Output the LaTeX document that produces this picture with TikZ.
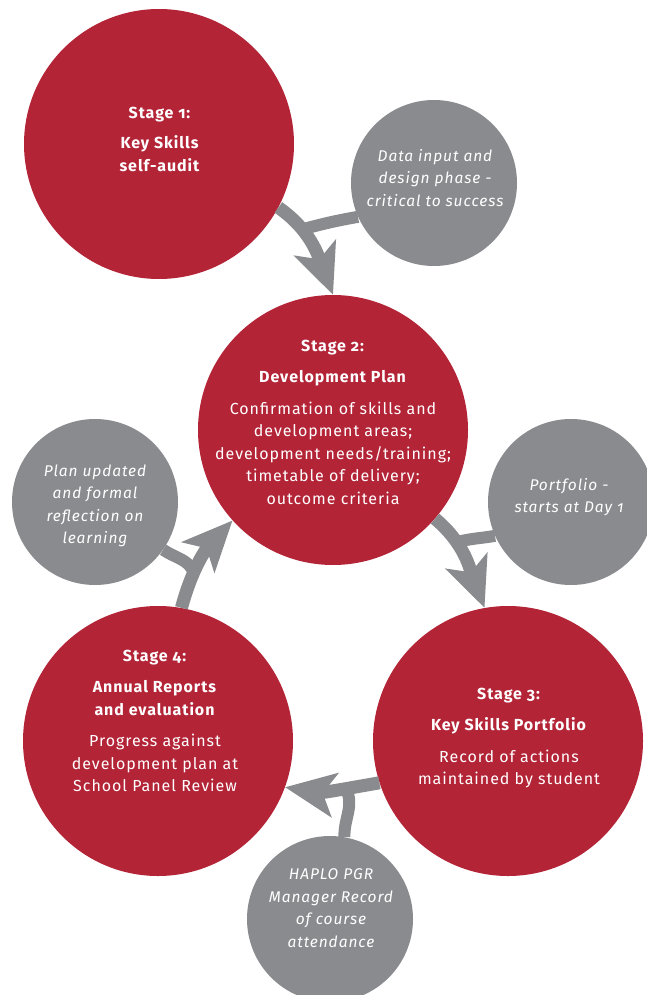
\documentclass[tikz,border=0pt]{standalone}
\usepackage{fontspec}
\setmainfont{Fira Sans}[Numbers=OldStyle,LetterSpace=6]
\usetikzlibrary{arrows.meta}
\definecolor{stagered}{RGB}{179,36,55}
\definecolor{notegrey}{RGB}{138,139,143}

\begin{document}
\begin{tikzpicture}[x=1pt,y=1pt,
  stage/.style={circle, fill=stagered, minimum size=270pt, inner sep=0pt},
  note/.style={circle, fill=notegrey, minimum size=166pt, inner sep=0pt},
  stagetext/.style={text=white, align=center,
    font=\fontsize{16}{22.5}\selectfont},
  notetext/.style={text=white, align=center,
    font=\itshape\fontsize{15.5}{22.5}\selectfont},
  flow/.style={draw=notegrey, line width=13pt,
    -{Stealth[length=50pt,width=44pt,inset=12pt]}},
  branch/.style={draw=notegrey, line width=12pt}]
  \clip (0,0) rectangle (647,-995);
  % circles
  \node[stage] (s1) at (159,-144) {};
  \node[note] (d) at (434,-183) {};
  \node[stage] (s2) at (333,-430) {};
  \node[note] (pl) at (95,-502) {};
  \node[note] (pf) at (571,-502) {};
  \node[stage] (s4) at (158,-741) {};
  \node[stage] (s3) at (508,-741) {};
  \node[note] (h) at (330,-919) {};
  % texts
  \node[stagetext] (t1) at (160,-139) {\textbf{Stage 1:}\\[8pt]
    \textbf{Key Skills}\\\textbf{self-audit}};
  \node[notetext] (td) at (435,-178) {Data input and\\design phase -\\critical to success};
  \node[stagetext] (t2) at (333,-422) {\textbf{Stage 2:}\\[9pt]
    \textbf{Development Plan}\\[9pt]
    Confirmation of skills and\\development areas;\\development needs/training;\\
    timetable of delivery;\\outcome criteria};
  \node[notetext] (tpl) at (95,-506) {Plan updated\\and formal\\reflection on\\learning};
  \node[notetext] (tpf) at (569,-497) {Portfolio -\\starts at Day 1};
  \node[stagetext] (t4) at (155,-721) {\textbf{Stage 4:}\\[9pt]
    \textbf{Annual Reports}\\\textbf{and evaluation}\\[9pt]
    Progress against\\development plan at\\School Panel Review};
  \node[stagetext] (t3) at (509,-738) {\textbf{Stage 3:}\\[9pt]
    \textbf{Key Skills Portfolio}\\[9pt]
    Record of actions\\maintained by student};
  \node[notetext] (th) at (331,-908) {HAPLO PGR\\Manager Record\\of course\\attendance};
  % arrows
  \draw[flow] (s1.-28) to[out=-35,in=111] coordinate[pos=0.3] (j1) (s2.north);
  \draw[branch] (d.204) to[out=190,in=15] (j1);
  \draw[flow] (s2.-41) to[out=-40,in=111] coordinate[pos=0.3] (j2) (s3.100);
  \draw[branch] (pf.204) to[out=190,in=15] (j2);
  \draw[flow] (s3.198) to[out=190,in=-9] coordinate[pos=0.35] (j3) (s4.-20);
  \draw[branch] (h.80) to[out=92,in=-60] (j3);
  \draw[flow] (s4.80) to[out=75,in=227] coordinate[pos=0.35] (j4) (s2.222);
  \draw[branch] (pl.-35) to[out=-35,in=110] (j4);
\end{tikzpicture}
\end{document}
